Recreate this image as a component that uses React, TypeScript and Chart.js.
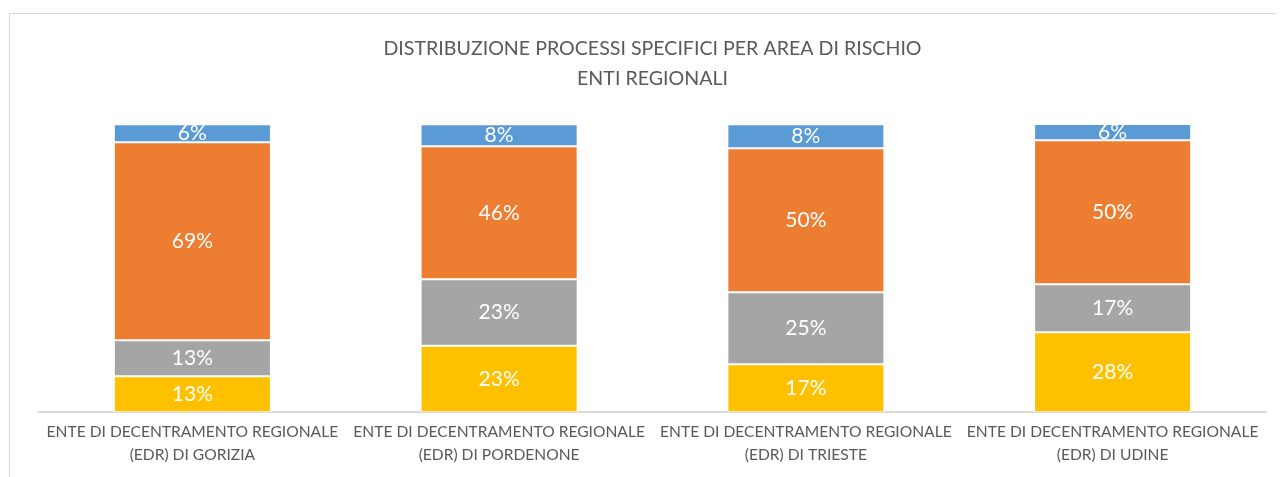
import React, { useEffect, useRef } from "react";
import { Chart, registerables } from "chart.js";

Chart.register(...registerables);

const categories: string[][] = [
  ["ENTE DI DECENTRAMENTO REGIONALE", "(EDR) DI GORIZIA"],
  ["ENTE DI DECENTRAMENTO REGIONALE", "(EDR) DI PORDENONE"],
  ["ENTE DI DECENTRAMENTO REGIONALE", "(EDR) DI TRIESTE"],
  ["ENTE DI DECENTRAMENTO REGIONALE", "(EDR) DI UDINE"],
];

// stacked from bottom to top (percent shares)
const seriesYellow = [12.5, 23.08, 16.67, 27.78];
const seriesGray = [12.5, 23.08, 25.0, 16.67];
const seriesOrange = [68.75, 46.15, 50.0, 50.0];
const seriesBlue = [6.25, 7.69, 8.33, 5.56];

const titleLines = [
  "DISTRIBUZIONE PROCESSI SPECIFICI PER AREA DI RISCHIO",
  "ENTI REGIONALI",
];

const FONT = "Lato, 'Open Sans', sans-serif";

const frame = {
  id: "frame",
  beforeDraw(chart: any) {
    const { ctx } = chart;
    ctx.save();
    ctx.strokeStyle = "#d9d9d9";
    ctx.lineWidth = 1;
    ctx.strokeRect(1.5, 5.5, chart.width + 20, chart.height + 20);
    ctx.restore();
  },
};

const dataLabels = {
  id: "dataLabels",
  afterDatasetsDraw(chart: any) {
    const { ctx } = chart;
    ctx.save();
    ctx.fillStyle = "#ffffff";
    ctx.font = `21px ${FONT}`;
    ctx.textAlign = "center";
    ctx.textBaseline = "middle";
    chart.data.datasets.forEach((ds: any, di: number) => {
      const meta = chart.getDatasetMeta(di);
      meta.data.forEach((el: any, i: number) => {
        const v = ds.data[i];
        const p = el.getProps(["x", "y", "base"], true);
        ctx.fillText(Math.round(v) + "%", p.x, (p.y + p.base) / 2);
      });
    });
    ctx.restore();
  },
};

export default function App() {
  const ref = useRef<HTMLCanvasElement>(null);
  useEffect(() => {
    if (!ref.current) return;
    const mk = (label: string, data: number[], color: string) => ({
      label,
      data,
      backgroundColor: color,
      borderColor: "#ffffff",
      borderWidth: 1,
      borderSkipped: false,
      categoryPercentage: 1,
      barPercentage: 0.512,
    });
    const chart = new Chart(ref.current, {
      type: "bar",
      data: {
        labels: categories,
        datasets: [
          mk("Serie 1", seriesYellow, "#FFC000"),
          mk("Serie 2", seriesGray, "#A5A5A5"),
          mk("Serie 3", seriesOrange, "#ED7D31"),
          mk("Serie 4", seriesBlue, "#5B9BD5"),
        ],
      },
      options: {
        animation: false,
        responsive: false,
        layout: { padding: { left: 31, right: 10, top: 0, bottom: 11 } },
        plugins: {
          legend: { display: false },
          tooltip: { enabled: false },
          title: {
            display: true,
            text: titleLines,
            color: "#595959",
            font: { family: FONT, size: 19.6, weight: "normal", lineHeight: 1.56 },
            padding: { top: 25, bottom: 30 },
          },
        },
        scales: {
          x: {
            stacked: true,
            grid: { display: false },
            border: { display: true, color: "#d9d9d9", width: 2 },
            ticks: {
              color: "#595959",
              font: { family: FONT, size: 15.6, lineHeight: 1.47 },
              padding: 0,
              maxRotation: 0,
              autoSkip: false,
            },
          },
          y: {
            stacked: true,
            display: false,
            min: 0,
            max: 100,
          },
        },
      },
      plugins: [frame, dataLabels],
    });
    return () => chart.destroy();
  }, []);
  return (
    <canvas
      ref={ref}
      width={1268}
      height={469}
      style={{ display: "block", width: 1268, height: 469 }}
    />
  );
}
